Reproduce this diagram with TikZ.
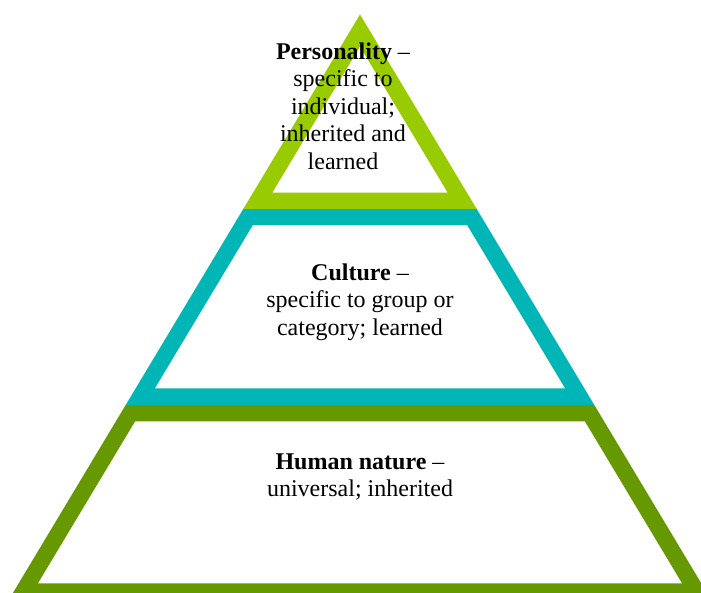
\documentclass[tikz,border=0pt]{standalone}
\usepackage{fontspec}
\setmainfont{Liberation Serif}
\definecolor{limegreen}{RGB}{153,204,0}
\definecolor{tealband}{RGB}{0,181,181}
\definecolor{olivegreen}{RGB}{102,153,0}
\begin{document}
\begin{tikzpicture}[x=1pt,y=-1pt,
    tier/.style={line width=16.5pt,line join=miter},
    tiertext/.style={align=center,font=\fontsize{24}{27.5}\selectfont}]
  \useasboundingbox (0,0) rectangle (701,593);
  \clip (0,0) rectangle (701,593);
  % the three tiers
  \draw[tier,olivegreen] (130.5,413) -- (589.5,413) -- (696.6,591.5) -- (23.4,591.5) -- cycle;
  \draw[tier,tealband] (248.1,217) -- (471.9,217) -- (579.6,396.5) -- (140.4,396.5) -- cycle;
  \draw[tier,limegreen] (360,30.5) -- (462.3,201) -- (257.7,201) -- cycle;
  % texts
  \node[tiertext] (personality) at (343,106) {\textbf{Personality} --\\specific to\\individual;\\inherited and\\learned};
  \node[tiertext] (culture) at (360,302) {\textbf{Culture} --\\specific to group or\\category; learned};
  \node[tiertext] (nature) at (360,477) {\textbf{Human nature} --\\universal; inherited};
\end{tikzpicture}
\end{document}
